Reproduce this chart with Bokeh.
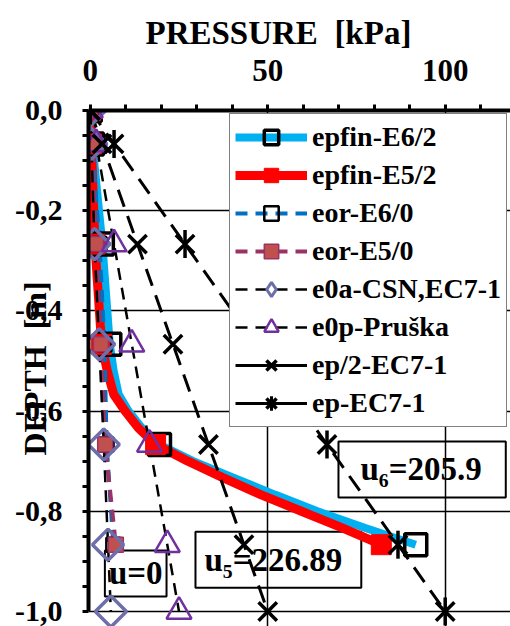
import math
from bokeh.plotting import figure
from bokeh.models import (FixedTicker, CustomJSTickFormatter, Legend, LegendItem,
                          Label, Title)
from bokeh.embed import file_html
from bokeh.resources import INLINE

FONT = "Liberation Serif"

# ---------------- data ----------------
depth = [0.0, -0.0667, -0.2667, -0.4667, -0.6667, -0.8667, -1.0]
depth6 = [0.0, -0.0667, -0.2667, -0.4667, -0.6667, -0.8667]

# smooth FEM curves
depth_curve = [0.0, -0.0667, -0.2667, -0.4667, -0.52, -0.5667, -0.6, -0.6333,
               -0.6667, -0.7, -0.7333, -0.7667, -0.8, -0.8333, -0.8667]
epfin_e6_2_curve = [0.0, 0.6, 3.4, 5.5, 6.6, 8.0, 10.8, 14.5,
                    19.5, 29.0, 40.5, 52.0, 64.0, 77.5, 91.7]
epfin_e5_2_curve = [0.0, 0.3, 1.3, 3.2, 4.8, 6.6, 9.8, 13.5,
                    18.4, 27.5, 37.5, 48.0, 59.5, 71.0, 82.0]

epfin_e6_2 = [0.0, 0.6, 3.4, 5.5, 19.5, 91.7]
epfin_e5_2 = [0.0, 0.3, 1.3, 3.2, 18.4, 82.0]
eor_e6_0 = [0.0, 0.5, 2.6, 4.0, 4.6, 6.5]
eor_e5_0 = [0.0, 0.4, 1.6, 3.0, 4.2, 7.2]
e0a_csn = [0.0, 0.3, 1.2, 2.5, 3.8, 5.0, 5.8]
e0p_pruska = [0.0, 1.7, 6.7, 11.7, 16.7, 21.7, 25.0]
ep_half_ec7 = [0.0, 3.3, 13.3, 23.3, 33.3, 43.3, 50.0]
ep_ec7 = [0.0, 6.7, 26.7, 46.7, 66.7, 86.7, 100.0]

series_names = ["epfin-E6/2", "epfin-E5/2", "eor-E6/0", "eor-E5/0",
                "e0a-CSN,EC7-1", "e0p-Pruška", "ep/2-EC7-1", "ep-EC7-1"]

x_major_ticks = [0, 50, 100]
x_minor_ticks = [10, 20, 30, 40, 60, 70, 80, 90, 110]
y_major_ticks = [0.0, -0.2, -0.4, -0.6, -0.8, -1.0]
y_minor_ticks = [-0.05, -0.1, -0.15, -0.25, -0.3, -0.35, -0.45, -0.5, -0.55,
                 -0.65, -0.7, -0.75, -0.85, -0.9, -0.95]
x_grid_ticks = [50, 100]
y_grid_ticks = [-0.2, -0.4, -0.6, -0.8, -1.0]

annotations = [("u₆=205.9", 93.5, -0.7166), ("u₅=226.89", 53.0, -0.897), ("u=0", 12.8, -0.924)]

# ---------------- figure ----------------
p = figure(width=510, height=626, output_backend="svg", toolbar_location=None,
           x_range=(-0.5, 118.4), y_range=(-1.03, 0.0), x_axis_location="above",
           min_border_left=88, min_border_top=110, min_border_right=0, min_border_bottom=0)
p.outline_line_color = None
p.background_fill_color = "white"
p.border_fill_color = "white"

# top axis
xa = p.xaxis[0]
xa.ticker = FixedTicker(ticks=x_major_ticks, minor_ticks=x_minor_ticks)
xa.axis_line_width = 4
xa.axis_line_color = "black"
xa.major_tick_line_width = 3
xa.minor_tick_line_width = 3
xa.major_tick_out = 6
xa.major_tick_in = 0
xa.minor_tick_out = 6
xa.minor_tick_in = 0
xa.major_label_text_font = FONT
xa.major_label_text_font_size = "31px"
xa.major_label_text_font_style = "bold"
xa.major_label_text_color = "black"
xa.major_label_standoff = 24

# left axis
ya = p.yaxis[0]
ya.ticker = FixedTicker(ticks=y_major_ticks, minor_ticks=y_minor_ticks)
ya.formatter = CustomJSTickFormatter(code="return tick.toFixed(1).replace('.', ',');")
ya.bounds = (-1.0, 0.0)
ya.axis_line_width = 4
ya.major_tick_line_width = 3
ya.minor_tick_line_width = 3
ya.major_tick_out = 6
ya.major_tick_in = 0
ya.minor_tick_out = 6
ya.minor_tick_in = 0
ya.major_label_text_font = FONT
ya.major_label_text_font_size = "30px"
ya.major_label_text_font_style = "bold"
ya.major_label_text_color = "black"
ya.major_label_standoff = 20
ya.axis_label = "DEPTH\u00a0\u00a0[m]"
ya.axis_label_text_font = FONT
ya.axis_label_text_font_size = "32px"
ya.axis_label_text_font_style = "bold"
ya.axis_label_text_color = "black"
ya.axis_label_standoff = -41

# grids
p.xgrid.ticker = FixedTicker(ticks=x_grid_ticks)
p.ygrid.ticker = FixedTicker(ticks=y_grid_ticks)
p.ygrid.bounds = (-1.1, 0.1)
for g in (p.xgrid[0], p.ygrid[0]):
    g.grid_line_color = "black"
    g.grid_line_width = 1.5
    g.grid_line_alpha = 1.0

# annotation boxes (under the series)
pads = [dict(left=22, right=24, top=10, bottom=10),
        dict(left=9, right=19, top=10, bottom=10),
        dict(left=4, right=4, top=5, bottom=5)]
for (txt, ax, ay), pad in zip(annotations, pads):
    p.add_layout(Label(x=ax, y=ay, text=txt, text_align="center", text_baseline="middle",
                       text_font=FONT, text_font_size="33px", text_font_style="bold",
                       text_color="black", border_line_color="black", border_line_width=2,
                       background_fill_color=None, padding=pad, level="underlay"))

# ---------------- lines ----------------
l1 = p.line(epfin_e6_2_curve, depth_curve, line_color="#00B0F0", line_width=8)
l2 = p.line(epfin_e5_2_curve, depth_curve, line_color="#FF0000", line_width=9)
l3 = p.line(eor_e6_0, depth6, line_color="#0070C0", line_width=4, line_dash="12 8")
l4 = p.line(eor_e5_0, depth6, line_color="#993366", line_width=4, line_dash="12 8")
l5 = p.line(e0a_csn, depth, line_color="black", line_width=2.5, line_dash="12 8")
l6 = p.line(e0p_pruska, depth, line_color="black", line_width=2.5, line_dash="12 8")
l7 = p.line(ep_half_ec7, depth, line_color="black", line_width=3, line_dash="18 10")
l8 = p.line(ep_ec7, depth, line_color="black", line_width=3, line_dash="18 10")

# legend proxies: a one-point line draws nothing in the plot, but gives a solid legend line
l7p = p.line(ep_half_ec7[:1], depth[:1], line_color="black", line_width=3)
l8p = p.line(ep_ec7[:1], depth[:1], line_color="black", line_width=3)

# ---------------- markers ----------------
m1 = p.scatter(epfin_e6_2, depth6, marker="square", size=22, fill_color=None,
               line_color="black", line_width=3.5)
m2 = p.scatter(epfin_e5_2, depth6, marker="square", size=20, fill_color="#FF0000",
               line_color="#FF0000", line_width=1)
m3 = p.scatter(eor_e6_0, depth6, marker="square", size=14, fill_color=None,
               line_color="black", line_width=2.5)
m4 = p.scatter(eor_e5_0, depth6, marker="square", size=15, fill_color="#C0504D",
               line_color="#993366", line_width=1.5)
m5 = p.scatter(e0a_csn, depth, marker="square", angle=math.pi / 4, size=22, fill_color=None,
               line_color="#6E6EAA", line_width=3.5)
# legend-only diamond (single point hidden in the marker cluster at the origin)
m5p = p.scatter(e0a_csn[:1], depth[:1], marker="diamond", size=12, fill_color=None,
                line_color="#6E6EAA", line_width=3)
m6 = p.scatter(e0p_pruska, depth, marker="triangle", size=25, fill_color=None,
               line_color="#7030A0", line_width=2.5)
m7 = p.scatter(ep_half_ec7, depth, marker="x", size=26, line_color="black", line_width=3.5)
m8a = p.scatter(ep_ec7, depth, marker="x", size=26, line_color="black", line_width=3.5)
m8b = p.scatter(ep_ec7, depth, marker="dash", angle=math.pi / 2, size=28,
                line_color="black", line_width=3.5)
# legend-only cross, so the legend star shows its vertical bar
m8p = p.scatter(ep_ec7[:1], depth[:1], marker="cross", size=12, line_color="black",
                line_width=3)

renderer_sets = [[l1, m1], [l2, m2], [l3, m3], [l4, m4], [l5, m5p], [l6, m6],
                 [l7p, m7], [l8p, m8a, m8p]]
items = [LegendItem(label=n, renderers=r) for n, r in zip(series_names, renderer_sets)]
legend = Legend(items=items, location="top_right", margin=3, padding=5, spacing=2,
                glyph_width=72, glyph_height=36, label_height=36, label_standoff=5,
                label_text_font=FONT, label_text_font_size="28px",
                label_text_font_style="bold", label_text_color="black",
                border_line_color="black", border_line_width=1.5,
                background_fill_color="white", background_fill_alpha=1.0)
p.add_layout(legend)

title = Title(text="PRESSURE\u00a0\u00a0[kPa]", align="left", offset=57, text_font=FONT,
              text_font_size="33px", text_font_style="bold", text_color="black", standoff=12)
p.add_layout(title, "above")

open("out.html", "w").write(file_html(p, INLINE))
